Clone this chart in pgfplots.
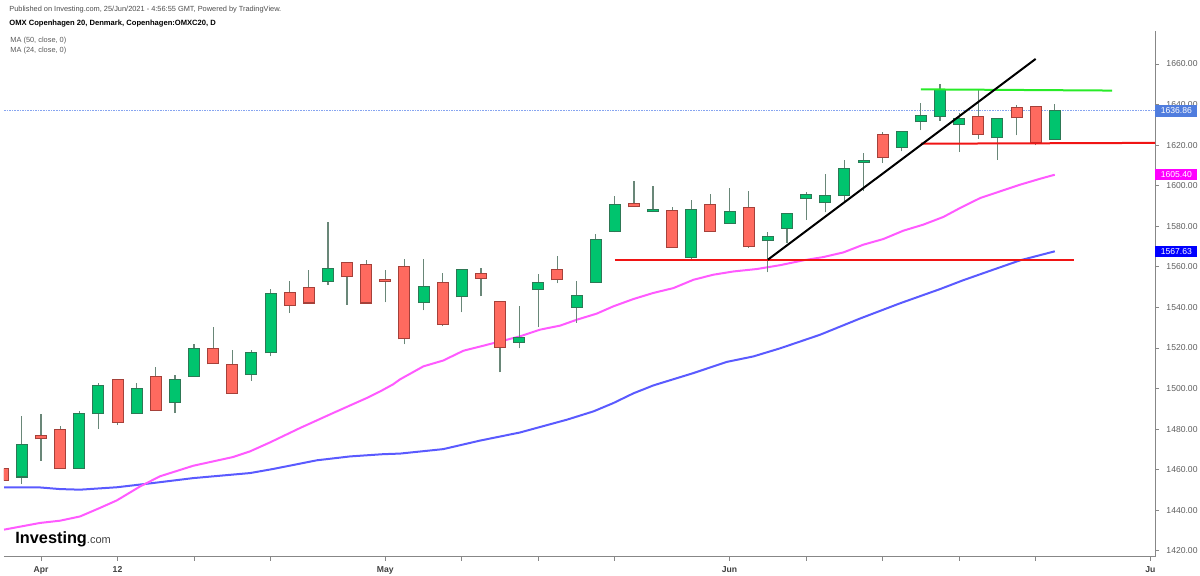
\documentclass[border=0pt]{standalone}
\usepackage{fontspec}
\setmainfont{Liberation Sans}
\usepackage{pgfplots}
\usepackage{pgfplotstable}
\pgfplotsset{compat=1.18}

\definecolor{upg}{RGB}{0,196,110}
\definecolor{upb}{RGB}{45,120,85}
\definecolor{dnr}{RGB}{255,106,95}
\definecolor{dnb}{RGB}{165,65,58}
\definecolor{wick}{RGB}{105,135,120}
\definecolor{ma24}{RGB}{255,90,255}
\definecolor{ma50}{RGB}{90,90,255}
\definecolor{trgreen}{RGB}{40,235,40}
\definecolor{trred}{RGB}{240,20,20}
\definecolor{pline}{RGB}{135,165,240}
\definecolor{pbox}{RGB}{80,125,222}
\definecolor{magbox}{RGB}{255,0,255}
\definecolor{bluebox}{RGB}{0,0,255}
\definecolor{axgray}{RGB}{135,135,135}
\definecolor{tickgray}{RGB}{95,95,95}

% up candles: index, open, high, low, close
\pgfplotstableread{
i O H L C
1 1456.6 1486.6 1452.9 1471.9
4 1460.9 1489.1 1460.6 1487.6
5 1487.9 1502.7 1480.0 1501.0
7 1487.9 1502.7 1487.5 1499.9
9 1493.3 1506.5 1487.9 1504.0
10 1506.3 1522.1 1506.0 1519.5
13 1507.1 1519.1 1503.8 1517.5
14 1517.8 1549.2 1515.8 1546.6
17 1552.8 1581.9 1551.2 1559.1
22 1542.6 1564.0 1538.5 1549.8
24 1545.4 1558.6 1537.5 1558.4
27 1523.1 1540.8 1519.8 1524.7
28 1549.0 1556.3 1530.1 1551.8
30 1540.2 1553.2 1532.3 1545.4
31 1552.7 1576.0 1552.4 1573.4
32 1577.8 1594.7 1577.0 1590.6
34 1587.3 1600.0 1587.0 1588.0
36 1564.6 1592.7 1564.0 1587.8
38 1581.7 1598.9 1581.5 1586.8
40 1573.0 1577.0 1557.2 1574.8
41 1579.3 1586.6 1571.7 1586.2
42 1593.9 1596.9 1583.2 1595.6
43 1591.8 1605.8 1586.8 1595.1
44 1595.4 1612.8 1592.2 1608.2
45 1611.8 1616.0 1597.2 1612.4
47 1619.2 1627.1 1616.9 1626.3
48 1631.7 1640.8 1627.3 1634.2
49 1634.5 1650.1 1632.0 1647.0
50 1630.6 1635.8 1616.6 1633.0
52 1623.8 1633.0 1612.8 1632.9
55 1623.2 1640.3 1623.0 1636.86
}\uptab

% down candles: index, open, high, low, close
\pgfplotstableread{
i O H L C
0 1460.3 1461.0 1454.5 1455.0
2 1476.7 1487.6 1464.4 1475.4
3 1479.7 1481.6 1460.3 1460.6
6 1504.3 1504.6 1482.1 1483.6
8 1505.5 1510.4 1489.0 1489.5
11 1519.5 1530.5 1512.2 1512.4
12 1511.6 1518.8 1497.5 1497.8
15 1547.1 1553.2 1537.2 1541.3
16 1549.6 1558.6 1541.9 1542.4
18 1561.9 1562.2 1541.3 1555.3
19 1560.9 1563.2 1542.1 1542.4
20 1553.4 1558.6 1542.4 1552.9
21 1559.9 1564.0 1521.7 1524.7
23 1552.2 1557.1 1530.6 1531.8
25 1556.6 1559.4 1545.4 1554.6
26 1542.6 1543.0 1507.9 1520.7
29 1558.4 1565.5 1551.8 1553.8
33 1591.1 1602.5 1589.5 1589.8
35 1587.3 1589.5 1569.5 1569.8
37 1590.6 1596.0 1577.5 1577.8
39 1589.0 1597.5 1569.3 1570.1
46 1624.8 1626.5 1611.2 1614.1
51 1633.7 1647.3 1623.2 1625.5
53 1638.3 1639.9 1624.8 1633.7
54 1638.6 1639.1 1619.9 1621.7
}\dntab

% MA (24, close, 0)
\pgfplotstableread{
i v
0.07 1430.4
1.95 1433.7
2.99 1434.8
4.04 1436.9
5.08 1441.1
5.96 1444.8
7.18 1451.7
8.22 1456.7
9.96 1461.9
12.04 1466.2
12.93 1469.0
13.97 1473.4
15.54 1480.5
17.27 1487.9
19.03 1495.3
19.72 1498.5
20.40 1502.0
20.77 1504.5
21.99 1510.9
23.03 1513.8
24.08 1518.6
25.13 1521.1
26.00 1523.2
27.04 1525.7
28.09 1529.0
29.14 1531.0
30.01 1533.9
31.05 1536.9
31.92 1540.5
32.97 1544.1
34.01 1547.1
35.06 1549.5
36.11 1553.6
37.15 1556.1
38.20 1557.7
39.42 1558.9
40.64 1560.8
41.86 1563.2
42.90 1564.8
43.95 1567.1
44.99 1570.9
46.04 1573.7
47.08 1577.8
48.13 1580.8
49.18 1584.6
50.05 1589.0
51.10 1593.9
52.14 1597.2
53.19 1600.5
54.23 1603.4
55.00 1605.40
}\matwentyfour

% MA (50, close, 0)
\pgfplotstableread{
i v
0.07 1451.2
1.95 1451.2
2.99 1450.4
4.04 1450.1
5.97 1451.3
7.70 1453.2
9.95 1455.8
12.93 1458.3
14.13 1460.3
16.43 1464.6
18.16 1466.5
19.88 1467.6
20.77 1467.9
23.03 1470.1
24.95 1474.3
27.04 1478.3
28.09 1481.0
29.49 1484.6
30.88 1488.7
31.92 1492.8
32.97 1497.6
34.01 1501.5
36.11 1507.6
37.85 1513.1
39.24 1515.8
40.64 1519.8
42.73 1526.5
44.82 1534.5
46.91 1542.0
49.00 1549.0
50.22 1553.4
51.79 1558.6
53.19 1563.2
55.00 1567.63
}\mafifty

\begin{document}
\begin{tikzpicture}
\useasboundingbox (0,0) rectangle (600pt,287.5pt);
\begin{axis}[
  at={(2pt,9.15pt)}, anchor=south west,
  scale only axis, width=575.5pt, height=262.85pt,
  xmin=0.065, xmax=60.24, ymin=1417.05, ymax=1676.27,
  axis x line*=bottom, axis y line*=right,
  axis line style={draw=axgray, line width=0.5pt},
  tick align=outside, major tick length=2pt,
  tick style={draw=axgray, line width=0.4pt},
  xtick={2,6,10,14,20,24,28,32,38,42,46,50,54,60},
  xticklabels={Apr,12,,,May,,,,Jun,,,,,Ju},
  xticklabel style={font=\fontsize{4.3}{5}\selectfont\bfseries, text=black!75, yshift=0.6pt},
  ytick={1420,1440,...,1660},
  yticklabel style={font=\fontsize{4.3}{5}\selectfont, text=tickgray, xshift=0.2pt},
  /pgf/number format/assume math mode=true,
  /pgf/number format/.cd, fixed, fixed zerofill, precision=2, 1000 sep={},
]
% last price line
\addplot[pline, dash pattern=on 0.8pt off 0.5pt, line width=0.45pt, forget plot] coordinates {(0.065,1636.86) (60.24,1636.86)};

% moving averages
\addplot[ma50, line width=1pt, forget plot] table[x=i, y=v] {\mafifty};
\addplot[ma24, line width=1pt, forget plot] table[x=i, y=v] {\matwentyfour};

% wicks
\addplot[draw=none, mark=none, forget plot, error bars/.cd, y dir=plus, y explicit, error mark=none,
  error bar style={draw=wick, line width=0.6pt}] table[x=i, y=L, y error plus expr=\thisrow{H}-\thisrow{L}] {\uptab};
\addplot[draw=none, mark=none, forget plot, error bars/.cd, y dir=plus, y explicit, error mark=none,
  error bar style={draw=wick, line width=0.6pt}] table[x=i, y=L, y error plus expr=\thisrow{H}-\thisrow{L}] {\dntab};

% bodies: border pass
\addplot[draw=none, mark=none, forget plot, error bars/.cd, y dir=plus, y explicit, error mark=none,
  error bar style={draw=upb, line width=6pt}] table[x=i, y expr=\thisrow{O}-0.5, y error plus expr=\thisrow{C}-\thisrow{O}+1] {\uptab};
\addplot[draw=none, mark=none, forget plot, error bars/.cd, y dir=plus, y explicit, error mark=none,
  error bar style={draw=dnb, line width=6pt}] table[x=i, y expr=\thisrow{C}-0.5, y error plus expr=\thisrow{O}-\thisrow{C}+1] {\dntab};
% bodies: fill pass
\addplot[draw=none, mark=none, forget plot, error bars/.cd, y dir=plus, y explicit, error mark=none,
  error bar style={draw=upg, line width=5pt}] table[x=i, y=O, y error plus expr=\thisrow{C}-\thisrow{O}] {\uptab};
\addplot[draw=none, mark=none, forget plot, error bars/.cd, y dir=plus, y explicit, error mark=none,
  error bar style={draw=dnr, line width=5pt}] table[x=i, y=C, y error plus expr=\thisrow{O}-\thisrow{C}] {\dntab};

% drawn trend lines
\addplot[trred, line width=1pt, forget plot] coordinates {(32.0,1563.5) (56.0,1563.5)};
\addplot[trred, line width=1pt, forget plot] coordinates {(48.0,1620.7) (60.24,1621.1)};
\addplot[trgreen, line width=1pt, forget plot] coordinates {(48.0,1647.5) (58.0,1646.9)};
\addplot[black, line width=1pt, forget plot] coordinates {(40.0,1563.5) (54.0,1662.5)};

\coordinate (p1) at (axis cs:60.24,1636.86);
\coordinate (p2) at (axis cs:60.24,1605.40);
\coordinate (p3) at (axis cs:60.24,1567.63);
\end{axis}

% price labels
\foreach \c/\t/\f in {p1/1636.86/pbox, p2/1605.40/magbox, p3/1567.63/bluebox}{
  \node[anchor=west, fill=\f, text=white, inner sep=0pt, minimum width=21pt, minimum height=5.6pt,
        font=\fontsize{4.3}{5}\selectfont] at (\c) {\t};
}

% header
\node[anchor=base west, inner sep=0pt, text=black!70, font=\fontsize{3.7}{4}\selectfont] at (4.5pt,281.75pt)
  {Published on Investing.com, 25/Jun/2021 - 4:56:55 GMT, Powered by TradingView.};
\node[anchor=base west, inner sep=0pt, text=black, font=\fontsize{3.8}{4}\selectfont\bfseries] at (4.5pt,274.75pt)
  {OMX Copenhagen 20, Denmark, Copenhagen:OMXC20, D};
\node[anchor=base west, inner sep=0pt, text=black!65, font=\fontsize{3.7}{4}\selectfont] at (5pt,266.25pt)
  {MA (50, close, 0)};
\node[anchor=base west, inner sep=0pt, text=black!65, font=\fontsize{3.7}{4}\selectfont] at (5pt,261.5pt)
  {MA (24, close, 0)};

% logo
\node[anchor=base west, inner sep=0pt] at (7.5pt,16pt)
  {\fontsize{8.15}{9}\selectfont\bfseries Investing\fontsize{5.5}{6}\selectfont\mdseries\color{black!75}.com};
\end{tikzpicture}
\end{document}
